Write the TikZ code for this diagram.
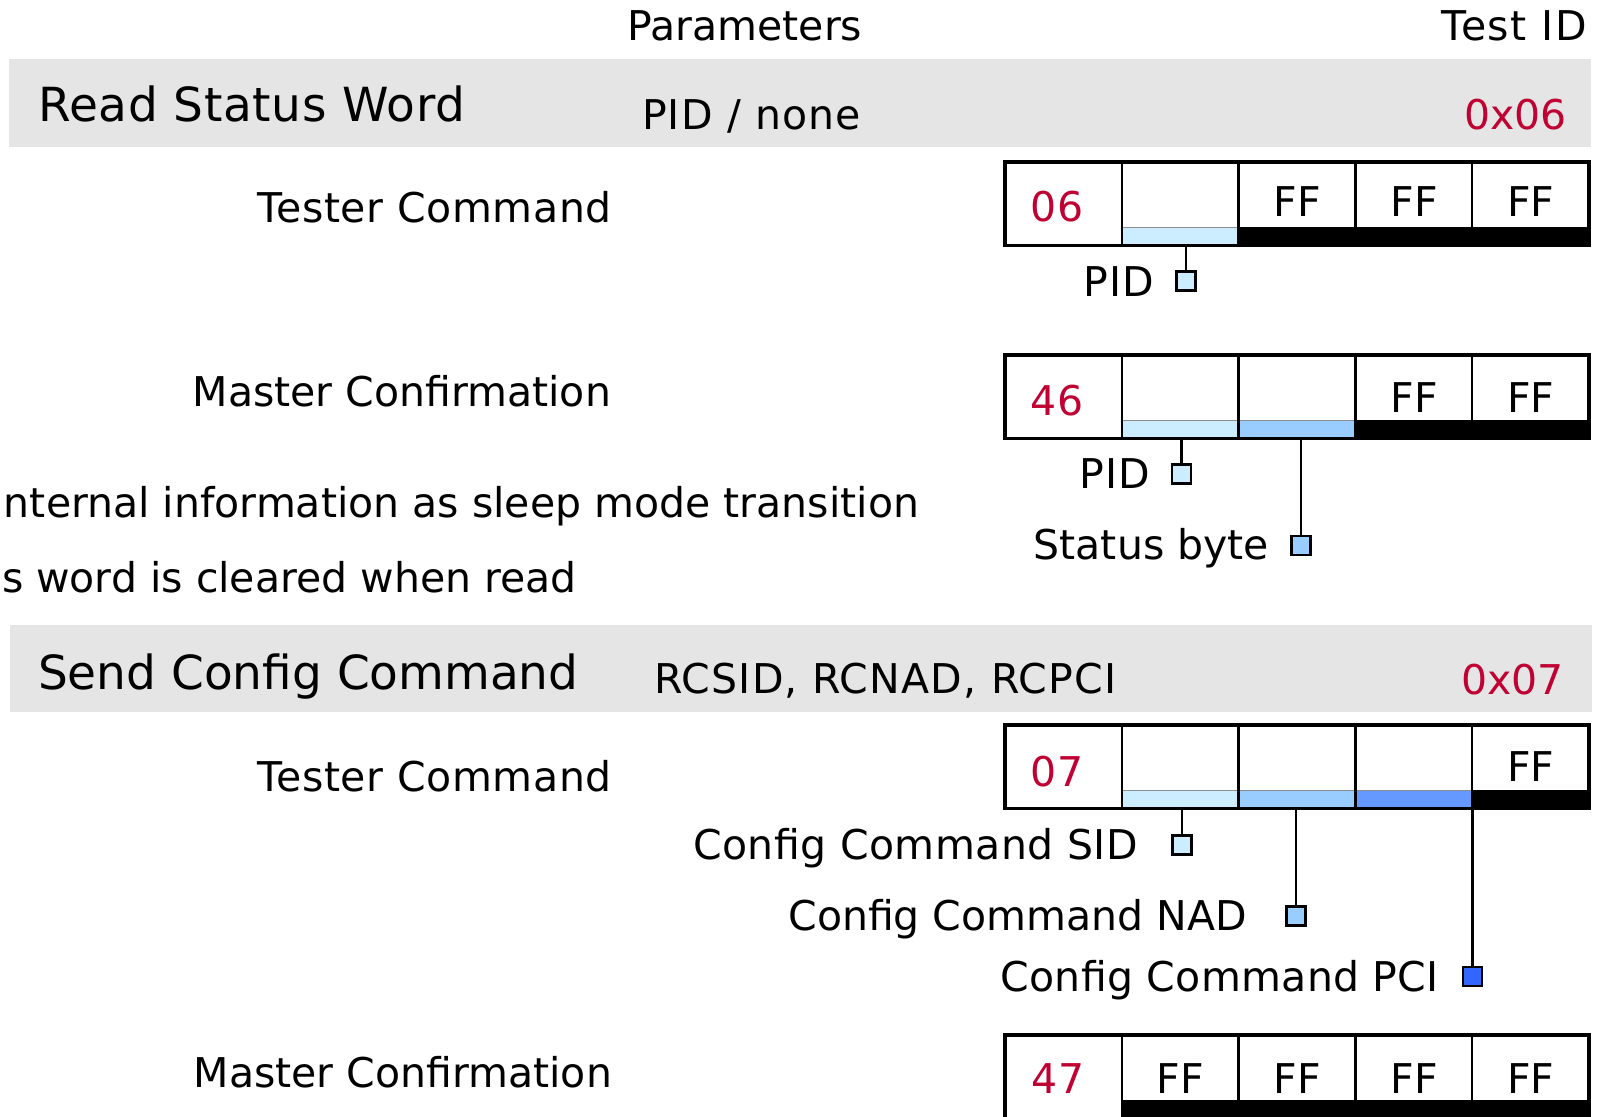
\documentclass[tikz,border=0pt]{standalone}
\usepackage{fontspec}
\setmainfont{DejaVu Sans}
\definecolor{bandgray}{RGB}{229,229,229}
\definecolor{idred}{RGB}{192,0,50}
\definecolor{lb}{RGB}{204,236,255}
\definecolor{mb}{RGB}{153,204,255}
\definecolor{db}{RGB}{102,153,255}
\definecolor{pcib}{RGB}{51,102,255}
\tikzset{
  every node/.style={inner sep=0pt, outer sep=0pt},
  txt/.style={font=\fontsize{41}{49}\selectfont},
  spaced/.style={font=\fontsize{41}{49}\selectfont\addfontfeature{LetterSpace=#1}},
  ttl/.style={font=\fontsize{47}{56}\selectfont\addfontfeature{LetterSpace=#1}, anchor=base west},
  hexred/.style={txt, text=idred, anchor=base},
  hexff/.style={txt, anchor=base},
  band/.style={fill=bandgray, minimum width=1582pt, minimum height=88pt, anchor=north west},
  cellbox/.style={draw, line width=2.5pt, minimum width=116.8pt, minimum height=83.5pt, anchor=north west},
  barbox/.style={minimum width=116.8pt, minimum height=18.5pt, anchor=south west, draw=black!45, line width=1pt},
  blackbar/.style={barbox, fill=black, draw=black},
  outer/.style={draw, line width=3.2pt},
  sq/.style={draw, line width=2.5pt, minimum width=19pt, minimum height=19pt},
  conn/.style={draw, line width=2.5pt},
}
\begin{document}
\begin{tikzpicture}[x=1pt,y=-1pt]
\clip (0,0) rectangle (1600,1116);
\fill[white] (0,0) rectangle (1600,1116);

% column headers
\node[txt, anchor=base] (hpar) at (745,41) {Parameters};
\node[spaced=4, anchor=base east] (hid) at (1587,41) {Test ID};

% ---------------- band 1
\node[band] (band1) at (9,59) {};
\node[ttl=1.4] (t1) at (38,121) {Read Status Word};
\node[spaced=3, anchor=base west] (p1) at (642,129) {PID / none};
\node[txt, text=idred, anchor=base east] (id1) at (1567,129.6) {0x06};

% ---------------- row 1 : tester command
\node[spaced=1.6, anchor=base east] (l1) at (612,222) {Tester Command};
\node[barbox, fill=lb] (r1b2) at (1121.8,245.5) {};
\node[blackbar] (r1b3) at (1238.6,245.5) {};
\node[blackbar] (r1b4) at (1355.4,245.5) {};
\node[blackbar] (r1b5) at (1472.2,245.5) {};
\node[cellbox] (r1c1) at (1005,162) {};
\node[cellbox] (r1c2) at (1121.8,162) {};
\node[cellbox] (r1c3) at (1238.6,162) {};
\node[cellbox] (r1c4) at (1355.4,162) {};
\node[cellbox] (r1c5) at (1472.2,162) {};
\draw[outer] (r1c1.north west) rectangle (r1c5.south east);
\node[hexred] (r1t1) at (1057,221.5) {06};
\node[hexff] (r1t3) at (1297,216) {FF};
\node[hexff] (r1t4) at (1414,216) {FF};
\node[hexff] (r1t5) at (1530.6,216) {FF};
\node[sq, fill=lb] (r1s1) at (1186,281) {};
\draw[conn] (r1s1.north |- r1b2.south) -- (r1s1.north);
\node[spaced=3, anchor=base east] (r1n1) at (1154,296) {PID};

% ---------------- row 2 : master confirmation
\node[txt, anchor=base east] (l2) at (611,406) {Master Confirmation};
\node[barbox, fill=lb] (r2b2) at (1121.8,438.5) {};
\node[barbox, fill=mb] (r2b3) at (1238.6,438.5) {};
\node[blackbar] (r2b4) at (1355.4,438.5) {};
\node[blackbar] (r2b5) at (1472.2,438.5) {};
\node[cellbox] (r2c1) at (1005,355) {};
\node[cellbox] (r2c2) at (1121.8,355) {};
\node[cellbox] (r2c3) at (1238.6,355) {};
\node[cellbox] (r2c4) at (1355.4,355) {};
\node[cellbox] (r2c5) at (1472.2,355) {};
\draw[outer] (r2c1.north west) rectangle (r2c5.south east);
\node[hexred] (r2t1) at (1057,415) {46};
\node[hexff] (r2t4) at (1414,412) {FF};
\node[hexff] (r2t5) at (1530.6,412) {FF};
\node[sq, fill=lb] (r2s1) at (1181.5,474) {};
\draw[conn] (r2s1.north |- r2b2.south) -- (r2s1.north);
\node[spaced=3, anchor=base east] (r2n1) at (1150,488) {PID};
\node[sq, fill=mb] (r2s2) at (1301,545.5) {};
\draw[conn] (r2s2.north |- r2b3.south) -- (r2s2.north);
\node[txt, anchor=base east] (r2n2) at (1269,559) {Status byte};

% notes
\node[txt, anchor=base west] (n1) at (4,517) {nternal information as sleep mode transition};
\node[txt, anchor=base west] (n2) at (2,592) {s word is cleared when read};

% ---------------- band 2
\node[band, minimum height=87pt] (band2) at (10,624.5) {};
\node[ttl=0] (t2) at (38,689) {Send Config Command};
\node[spaced=3, anchor=base west] (p2) at (654,693) {RCSID, RCNAD, RCPCI};
\node[txt, text=idred, anchor=base east] (id2) at (1564,694) {0x07};

% ---------------- row 3 : tester command
\node[spaced=1.6, anchor=base east] (l3) at (612,791) {Tester Command};
\node[barbox, fill=lb] (r3b2) at (1121.8,808.5) {};
\node[barbox, fill=mb] (r3b3) at (1238.6,808.5) {};
\node[barbox, fill=db] (r3b4) at (1355.4,808.5) {};
\node[blackbar] (r3b5) at (1472.2,808.5) {};
\node[cellbox] (r3c1) at (1005,725) {};
\node[cellbox] (r3c2) at (1121.8,725) {};
\node[cellbox] (r3c3) at (1238.6,725) {};
\node[cellbox] (r3c4) at (1355.4,725) {};
\node[cellbox] (r3c5) at (1472.2,725) {};
\draw[outer] (r3c1.north west) rectangle (r3c5.south east);
\node[hexred] (r3t1) at (1057,786) {07};
\node[hexff] (r3t5) at (1530.6,781) {FF};
\node[sq, fill=lb] (r3s1) at (1182,845) {};
\draw[conn] (r3s1.north |- r3b2.south) -- (r3s1.north);
\node[spaced=1.2, anchor=base east] (r3n1) at (1138,859) {Config Command SID};
\node[sq, fill=mb] (r3s2) at (1296,916) {};
\draw[conn] (r3s2.north |- r3b3.south) -- (r3s2.north);
\node[txt, anchor=base east] (r3n2) at (1247,930) {Config Command NAD};
\node[sq, fill=pcib] (r3s3) at (1472.5,976.5) {};
\draw[conn] (r3s3.north |- r3b4.south) -- (r3s3.north);
\node[spaced=0.8, anchor=base east] (r3n3) at (1439,991) {Config Command PCI};

% ---------------- row 4 : master confirmation
\node[txt, anchor=base east] (l4) at (612,1087) {Master Confirmation};
\node[blackbar] (r4b2) at (1121.8,1118.5) {};
\node[blackbar] (r4b3) at (1238.6,1118.5) {};
\node[blackbar] (r4b4) at (1355.4,1118.5) {};
\node[blackbar] (r4b5) at (1472.2,1118.5) {};
\node[cellbox] (r4c1) at (1005,1035) {};
\node[cellbox] (r4c2) at (1121.8,1035) {};
\node[cellbox] (r4c3) at (1238.6,1035) {};
\node[cellbox] (r4c4) at (1355.4,1035) {};
\node[cellbox] (r4c5) at (1472.2,1035) {};
\draw[outer] (r4c1.north west) rectangle (r4c5.south east);
\node[hexred] (r4t1) at (1058,1093) {47};
\node[hexff] (r4t2) at (1180.2,1093) {FF};
\node[hexff] (r4t3) at (1297,1093) {FF};
\node[hexff] (r4t4) at (1414,1093) {FF};
\node[hexff] (r4t5) at (1530.6,1093) {FF};
\end{tikzpicture}
\end{document}
